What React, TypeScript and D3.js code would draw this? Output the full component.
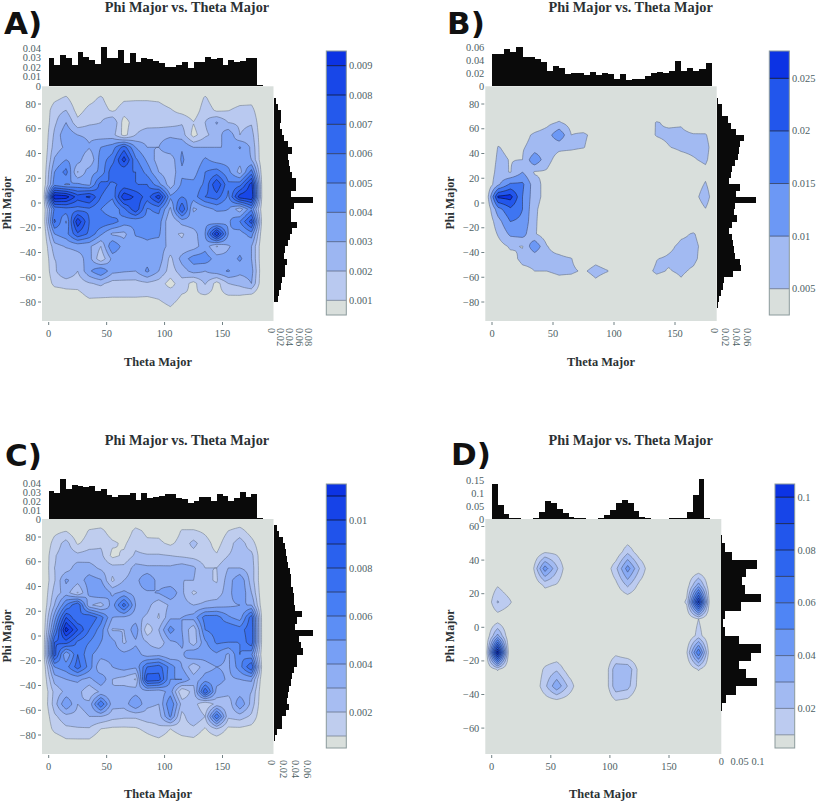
import React from "react";
import * as d3 from "d3";

const thetaTicks = [0, 50, 100, 150];
const phiTicks = [80, 60, 40, 20, 0, -20, -40, -60, -80];
const phiTicksD = [60, 40, 20, 0, -20, -40, -60];

// density grids, units of 1e-3; columns theta 5..175 by 10, rows phi 85..-85 by 10
const gridA = [
  [0.7,1.15,0.2,0.6,1.15,0.3,0.8,0.85,0.85,0.8,0.4,0.1,0,1.15,0.2,0.3,0.5,0.6],
  [1.6,2.0,0.6,1.3,1.5,0.8,1.5,1.5,1.5,1.4,1.1,0.6,0.3,1.6,0.8,0.95,1.3,1.3],
  [1.8,3.0,1.3,1.8,2.0,3.0,0.5,1.6,1.6,1.5,1.6,1.9,1.05,2.0,3.1,2.0,1.8,1.9],
  [2.2,3.8,3.0,2.8,2.5,2.4,0.6,2.0,2.5,2.7,2.8,2.5,0.6,1.8,2.4,3.8,2.0,2.4],
  [2.5,3.2,3.8,3.1,4.0,4.5,6.5,4.0,3.0,3.0,3.8,3.9,3.0,3.0,3.0,3.0,4.1,2.8],
  [3.1,4.0,3.5,2.0,4.5,5.5,8.5,5.2,3.8,2.5,2.3,4.2,3.0,4.2,3.5,3.5,3.4,3.0],
  [4.0,5.4,1.9,3.6,4.2,6.8,6.0,6.0,4.6,3.0,2.3,3.8,3.5,5.0,5.5,4.3,2.6,5.5],
  [4.6,3.9,4.2,3.7,6.5,5.8,6.3,6.0,6.0,4.3,2.4,4.2,4.3,5.2,8.0,5.2,5.6,8.5],
  [9.8,9.5,7.5,8.2,6.0,5.2,8.8,7.8,6.5,8.6,4.2,5.0,4.5,6.0,6.5,4.8,8.6,9.0],
  [5.2,5.6,5.6,5.8,5.0,4.0,5.7,7.8,4.9,5.3,2.8,7.0,2.8,3.5,4.2,4.0,2.4,4.8],
  [6.2,3.9,8.8,6.0,5.8,5.5,4.5,4.2,4.6,4.5,2.0,3.4,3.7,3.7,3.0,3.8,5.0,7.5],
  [4.0,4.6,6.8,5.8,4.2,2.8,2.7,4.1,4.2,4.2,2.2,1.9,2.5,4.0,9.0,4.0,3.5,4.5],
  [2.6,3.1,3.3,3.2,2.0,5.0,3.5,3.5,3.8,3.5,2.7,2.2,2.5,3.6,1.9,2.9,3.5,3.0],
  [2.0,2.2,2.6,3.4,1.2,3.3,3.2,3.8,3.6,3.6,1.7,3.4,4.5,4.6,3.5,3.3,4.2,3.0],
  [1.8,3.0,2.0,3.8,5.0,3.3,3.1,3.0,4.2,3.0,1.5,2.5,3.4,3.0,3.6,4.1,3.3,3.4],
  [1.3,1.4,1.4,1.9,2.2,1.6,1.6,1.6,1.8,1.5,0.6,1.6,0.6,2.1,0.6,2.0,2.3,3.0],
  [0.2,0.5,0.6,1.2,1.15,1.1,1.1,1.1,1.05,1.2,1.7,0.9,0.9,0.9,0.7,0.95,0.95,0.7],
  [0,0,0,0.2,0.2,0.2,0.2,0.2,0.2,0.5,0.9,0.3,0.2,0.2,0.1,0.2,0.2,0],
];
const gridB = [
  [0,0,0,0,0,0,0,0,0,0,0,0,0,0,0,0,0,0],
  [0,0,0,0,0,1,0,0,0,0,0,0,0,1,0,0,0,0],
  [1,0,0,1,3.5,5.5,3,0.5,0,0,0,0,2.5,5.3,4.2,4.2,0.5,0],
  [3,2,3,6,7.5,14,5,6,3,0,0,0,3,5.3,6,6.5,5.5,5.5],
  [5.2,4,4.5,7,7,6,6,5.3,2,0,0,0,0,3,4.8,6,6.5,7],
  [6,4.8,5,14,6.5,3,1.5,0,0,0,0,0,0,0,1,3,4.5,6],
  [7,4.7,10,4.5,4.5,1.5,0,0,0,0,0,0,0,0,0,0,2,3.5],
  [9,16,16,7,3,0,0,0,0,0,0,0,0,0,0,0,2,5.5],
  [26,27,15,7,3,0,0,0,0,0,0,0,0,0,0,0,3,7.5],
  [13,19,15,6,2,0,0,0,0,0,0,0,0,0,0,0,1.5,4.8],
  [8,15,14,5.8,1.5,0,0,0,0,0,0,0,0,0,0,0,0,1],
  [5.5,11,12,5.5,2,0,0,0,0,0,0,0,0,0,0,3.8,5.5,2],
  [3,5.6,4.8,14,5.2,3,1,0,0,0,0,0,0,0,3.5,6.5,6.5,3],
  [1,3.5,6,6,6,6,5.2,1,3,1,0,0,1,4.8,6,7,6.5,2],
  [0,2,4,5,5,6,6,4.2,7,5.2,0,0,3,6,4.6,6,4,0.5],
  [0,0,0,1,2,3,2,0.5,3.5,0.5,0,0,0.5,2,1,4,1,0],
  [0,0,0,0,0,0,0,0,0,0,0,0,0,0,0,0,0,0],
  [0,0,0,0,0,0,0,0,0,0,0,0,0,0,0,0,0,0],
];
const gridC = [
  [0.7,0.95,0.2,1.1,1.3,0.4,0.2,1.3,0.75,0.7,0.2,1.1,1.1,0.8,0.3,1.0,1.4,0.5],
  [1.4,2.4,0.85,1.5,1.8,1.2,0.8,1.7,1.2,1.2,0.8,1.4,2.3,1.4,0.6,1.6,2.5,1.4],
  [1.9,2.6,2.3,2.5,2.3,0.7,1.2,2.2,2.1,2.1,2.0,1.8,1.6,1.4,1.1,2.0,2.4,2.3],
  [2.0,2.4,3.6,3.4,2.8,2.4,2.3,3.4,3.2,3.2,3.2,3.6,3.2,2.0,2.0,3.0,3.0,2.5],
  [1.9,4.2,3.4,4.5,4.1,1.8,3.0,3.6,5.0,3.5,3.0,3.0,3.0,2.2,1.9,3.5,4.9,2.5],
  [2.4,3.5,1.9,4.3,5.0,3.8,4.2,3.6,3.8,4.1,5.0,3.2,1.8,2.5,2.4,3.6,5.0,3.0],
  [3.0,6.0,8.0,3.2,2.5,4.5,7.5,4.0,3.4,2.2,3.2,3.4,3.0,3.2,3.5,3.8,4.0,4.0],
  [4.5,9.0,7.0,8.0,6.5,4.0,3.8,3.4,2.8,1.9,3.8,4.0,4.4,6.5,6.5,5.2,4.5,7.6],
  [5.8,11.5,9.0,7.0,5.5,2.9,3.0,4.7,1.2,3.0,5.5,4.0,2.2,6.0,6.4,7.0,6.5,7.8],
  [8.0,8.5,6.8,6.0,5.0,4.4,2.8,3.8,3.0,2.3,3.8,4.2,2.3,4.8,6.2,6.0,6.0,7.8],
  [8.5,4.0,7.0,5.2,4.5,4.5,4.3,4.5,3.5,3.7,3.0,3.8,5.0,4.4,4.8,3.8,6.0,5.2],
  [5.0,5.6,7.5,5.6,3.0,4.0,4.5,4.2,7.0,7.5,5.6,4.0,2.2,3.6,4.0,3.8,5.6,8.0],
  [3.4,4.0,4.2,3.7,4.8,3.0,2.6,1.9,8.8,8.5,5.0,5.0,3.5,4.4,4.5,3.8,4.0,4.2],
  [2.3,3.3,3.4,2.2,3.2,3.0,3.4,3.6,3.5,3.3,4.5,1.0,2.5,8.0,3.6,3.4,3.4,3.0],
  [2.5,5.0,3.0,3.3,7.0,3.4,3.4,5.0,3.2,3.0,6.0,2.6,2.5,1.0,2.4,2.2,5.0,2.6],
  [1.8,2.6,2.7,3.0,3.0,2.4,2.2,2.2,2.6,2.5,5.2,1.6,3.0,2.0,7.0,2.2,2.5,1.8],
  [1.3,1.8,1.9,1.9,1.0,0.8,0.8,0.85,1.3,1.8,1.0,1.5,1.7,0.9,2.0,0.8,0.8,0.6],
  [0.3,0.8,0.8,0.8,0.2,0.1,0.1,0.1,0.5,0.7,0.3,0.6,0.7,0.2,0.3,0.1,0.1,0],
];
// rows phi 55..-55 by 10
const gridD = [
  [0,0,0,0,0,0,0,0,0,0,0,0,0,0,0,0,0,0],
  [0,0,0,0,8,7,0,0,0,0,1,17,3,0,0,0,0,0],
  [0,0,0,8,46,22,0,0,0,0,17,45,20,0,0,0,0,0],
  [9,2,0,0,12,9,0,0,0,0,7,22,7,0,0,0,4,35],
  [21,12,0,0,0,0,0,0,0,0,0,0,0,0,0,0,12,95],
  [3,0,0,0,0,0,0,0,0,0,0,0,0,0,0,0,0,10],
  [33,0,0,0,0,0,0,0,0,0,0,0,0,0,0,0,0,14],
  [105,0,0,0,0,0,0,0,0,0,6,0,0,0,0,0,9,60],
  [11,0,0,0,12,18,4,0,0,0,27,28,5.5,0,0,0,0,11],
  [0,0,0,0,17,38,18,0,0,0,27,24,5,0,0,0,0,0],
  [0,0,0,0,3,3,2,0,0,0,7,5,0,0,0,0,0,0],
  [0,0,0,0,0,0,0,0,0,0,0,0,0,0,0,0,0,0],
];

// marginals (units of 1e-3); top bins 5 degrees from theta 0, right bins from the given phi downward
const topA = [29.5,22.5,32.5,30,22,36,30.5,27.7,24,41.8,29.5,29.5,38,25,34.7,26,30,28.5,27,25,20,20,22,26,19.5,26,26,31,28.8,29.5,22,27.5,25.5,27,29.5,29.5,1];
const topB = [49,49,56.5,53,60.5,45,44,42,36.6,24,30.5,27.5,19,20,21,17,22.4,17.8,20,18.8,11.7,19.3,10,10.7,11,15,20,21.4,21,23,39,23.4,28,24,26.5,35.6];
const topC = [31,29.2,44.5,34,37.8,37,35.9,37,31.8,33.3,26.9,25,27.3,27.3,28.8,21,29.2,24,25,25.8,28,28,23.2,22.4,17.6,20,25,24.3,20,28,25.8,19.8,23.5,30,24.3,28,1];
const topD = [135,52.5,20,2.5,2.5,0,0,5,25.6,70,62.8,37,23,7.7,2.6,2,0,0,5,15,36,63,72,61.5,32,7.7,2.6,0,0,0,2,2,2,25.6,91,152.5,2];
const rightA = [2,6,10,16,17,15,19,22,31,40,32,33,36,40,48,48,38,86,44,38,38,52,41,36,31,26,23,29,25,26,19,16,13,9];
const rightB = [2.5,10,10,20,26,35,51,42,40,39,34,28,26,23,42,35,72,34,32,38,28,23,28,29,32,34,42,44,29,13,12,7,4,2];
const rightC = [5.6,10,16,19,21,22,25,27,29,30,33,34,34,36,48,40,37,66,43,46,49,39,40,34,32,30,26,25,23,26,21,15,15,6,2];
const rightD = [2.7,10,30,96,66,57,64.5,108,55,10,3.6,10,49,108,80,49,66,96,40,13,2];

const levelsA = [1,2,3,4,5,6,7,8,9];
const levelsB = [5,10,15,20,25];
const levelsC = [1,2,3,4,5,6,7,8,9,10,11];
const levelsD = [10,20,30,40,50,60,70,80,90,100];

const serif = "'Liberation Serif', serif";
const tickColor = "#4d6165";
const ink = "#2b3134";
const bg = "#d9dfdc";

const colorAt = d3.scaleLinear<string>()
  .domain([0, 0.1, 0.2, 0.35, 0.5, 0.7, 0.85, 1])
  .range([bg, "#bccbf0", "#a2baf2", "#7ba2f5", "#4f85f5", "#2d65ef", "#1c4eea", "#0c33e4"])
  .interpolate(d3.interpolateRgb as any);
const lineAt = d3.scaleLinear<string>().domain([0, 0.35, 1]).range(["#87919a", "#46557a", "#050a24"]);

function upsample(rows: number[][], f: number) {
  const w0 = rows[0].length + 2;
  const h0 = rows.length + 2;
  const g = (x: number, y: number) => {
    if (x <= 0 || y <= 0 || x >= w0 - 1 || y >= h0 - 1) return 0;
    return rows[y - 1][x - 1];
  };
  const w = (w0 - 1) * f + 1;
  const h = (h0 - 1) * f + 1;
  const out = new Array(w * h);
  for (let j = 0; j < h; j++) {
    const yy = j / f;
    const y1 = Math.min(Math.floor(yy), h0 - 2);
    const ty = yy - y1;
    for (let i = 0; i < w; i++) {
      const xx = i / f;
      const x1 = Math.min(Math.floor(xx), w0 - 2);
      const tx = xx - x1;
      out[j * w + i] = (1 - ty) * ((1 - tx) * g(x1, y1) + tx * g(x1 + 1, y1)) + ty * ((1 - tx) * g(x1, y1 + 1) + tx * g(x1 + 1, y1 + 1));
    }
  }
  return { values: out, w, h };
}

type Panel = {
  letter: string; lx: number; ly: number;
  titleX: number; titleY: number; xLabelX: number; xLabelY: number; yLabelX: number; yLabelY: number;
  left: number; right: number; top: number; bottom: number;
  x0: number; x150: number; y0: number; yStep20: number;
  grid: number[][]; phiTop: number; levels: number[]; yTicks: number[];
  topVals: number[]; topMax: number; topMaxY: number; topTicks: number[]; topFmt: (v: number) => string;
  rightVals: number[]; rightStart: number; rightTicks: number[]; rightPx: number; rightFmt: (v: number) => string; rightH: boolean; rightLabelY: number;
  cbL: number; cbR: number; cbT: number; cbB: number; cbMin: number; cbMax: number; cbTicks: number[]; cbFmt: (v: number) => string;
};

const f2 = (v: number) => (v === 0 ? "0" : String(+(v / 1000).toFixed(3)));

const panels: Panel[] = [
  { letter: "A)", lx: 4, ly: 34, titleX: 187, titleY: 12, xLabelX: 158, xLabelY: 366, yLabelX: 11, yLabelY: 203,
    left: 42, right: 273.5, top: 86.3, bottom: 321, x0: 48.7, x150: 222.5, y0: 203, yStep20: 24.75,
    grid: gridA, phiTop: 85, levels: levelsA, yTicks: phiTicks,
    topVals: topA, topMax: 40, topMaxY: 48.3, topTicks: [0,10,20,30,40], topFmt: f2,
    rightVals: rightA, rightStart: 90, rightTicks: [0,20,40,60,80], rightPx: 36.7, rightFmt: f2, rightH: false, rightLabelY: 328,
    cbL: 326.3, cbR: 346.3, cbT: 51, cbB: 315, cbMin: 0.5, cbMax: 9.5, cbTicks: [1,2,3,4,5,6,7,8,9], cbFmt: f2 },
  { letter: "B)", lx: 447, ly: 34, titleX: 630.7, titleY: 12, xLabelX: 601, xLabelY: 366, yLabelX: 454, yLabelY: 203,
    left: 485.3, right: 716.7, top: 86.3, bottom: 321, x0: 492, x150: 675, y0: 203, yStep20: 24.75,
    grid: gridB, phiTop: 85, levels: levelsB, yTicks: phiTicks,
    topVals: topB, topMax: 60, topMaxY: 47, topTicks: [0,20,40,60], topFmt: f2,
    rightVals: rightB, rightStart: 85, rightTicks: [0,20,40,60], rightPx: 32.7, rightFmt: f2, rightH: false, rightLabelY: 328,
    cbL: 769.3, cbR: 789.3, cbT: 51, cbB: 315, cbMin: 2.5, cbMax: 27.6, cbTicks: [5,10,15,20,25], cbFmt: f2 },
  { letter: "C)", lx: 5, ly: 466, titleX: 187, titleY: 445, xLabelX: 158, xLabelY: 798, yLabelX: 11, yLabelY: 636,
    left: 42, right: 273.5, top: 519, bottom: 754, x0: 48.7, x150: 222.5, y0: 636, yStep20: 24.75,
    grid: gridC, phiTop: 85, levels: levelsC, yTicks: phiTicks,
    topVals: topC, topMax: 40, topMaxY: 483.3, topTicks: [0,10,20,30,40], topFmt: f2,
    rightVals: rightC, rightStart: 90, rightTicks: [0,20,40,60], rightPx: 35.6, rightFmt: f2, rightH: false, rightLabelY: 760,
    cbL: 326.3, cbR: 346.3, cbT: 484, cbB: 748, cbMin: 0.5, cbMax: 11.5, cbTicks: [2,4,6,8,10], cbFmt: f2 },
  { letter: "D)", lx: 451, ly: 465, titleX: 630.7, titleY: 445, xLabelX: 603, xLabelY: 798, yLabelX: 454, yLabelY: 636,
    left: 485.3, right: 721.3, top: 519, bottom: 754, x0: 491.7, x150: 669, y0: 627.3, yStep20: 33.6,
    grid: gridD, phiTop: 55, levels: levelsD, yTicks: phiTicksD,
    topVals: topD, topMax: 150, topMaxY: 480, topTicks: [0,50,100,150], topFmt: f2,
    rightVals: rightD, rightStart: 55, rightTicks: [0,50,100], rightPx: 36.7, rightFmt: f2, rightH: true, rightLabelY: 765,
    cbL: 775, cbR: 794.7, cbT: 484, cbB: 748, cbMin: 5, cbMax: 105, cbTicks: [20,40,60,80,100], cbFmt: f2 },
];

const minus = (v: number) => (v < 0 ? "\u2212" + Math.abs(v) : String(v));

function Chart({ p }: { p: Panel }) {
  const x = d3.scaleLinear().domain([0, 150]).range([p.x0, p.x150]);
  const y = d3.scaleLinear().domain([0, 20]).range([p.y0, p.y0 - p.yStep20]);
  const F = 5;
  const up = upsample(p.grid, F);
  const gx = (i: number) => x(-5 + (i - 0.5) * 10 / F);
  const gy = (j: number) => y(p.phiTop + 10 - (j - 0.5) * 10 / F);
  const path = d3.geoPath(d3.geoTransform({
    point(this: any, a: number, b: number) { this.stream.point(gx(a), gy(b)); },
  }));
  const gen = d3.contours().size([up.w, up.h]).thresholds(p.levels);
  const shapes = gen(up.values);
  const n = p.levels.length;
  const band = (i: number) => colorAt((i + 1) / n);
  const topY = d3.scaleLinear().domain([0, p.topMax]).range([p.top, p.topMaxY]);
  const rightTickMax = p.rightTicks[p.rightTicks.length - 1];
  const rightX = d3.scaleLinear().domain([0, rightTickMax]).range([p.right, p.right + p.rightPx]);
  const cb = d3.scaleLinear().domain([p.cbMin, p.cbMax]).range([p.cbB, p.cbT]);
  const edges = [p.cbMin, ...p.levels, p.cbMax];
  return (
    <g>
      <text x={p.lx} y={p.ly} fontFamily="'DejaVu Sans', sans-serif" fontWeight="bold" fontSize={31} fill="#111">{p.letter}</text>
      <text x={p.titleX} y={p.titleY} textAnchor="middle" fontFamily={serif} fontWeight="bold" fontSize={14.3} fill={ink}>Phi Major vs. Theta Major</text>

      <rect x={p.left} y={p.top} width={p.right - p.left} height={p.bottom - p.top} fill={bg} />
      {shapes.map((s, i) => (
        <path key={i} d={path(s as any) || ""} fill={band(i)} stroke={lineAt((i + 1) / n)} strokeWidth={0.6} strokeLinejoin="round" />
      ))}

      {p.topVals.map((v, i) => (
        <rect key={i} x={x(i * 5)} y={topY(v)} width={x(5) - x(0)} height={p.top - topY(v)} fill="#0a0a0a" shapeRendering="crispEdges" />
      ))}
      {p.rightVals.map((v, i) => {
        const y1 = y(p.rightStart - i * 5);
        const y2 = y(p.rightStart - (i + 1) * 5);
        return <rect key={i} x={p.right} y={y1} width={rightX(v) - p.right} height={y2 - y1} fill="#0a0a0a" shapeRendering="crispEdges" />;
      })}

      {p.yTicks.map((t) => (
        <g key={t}>
          <line x1={p.left - 4} x2={p.left - 1} y1={y(t)} y2={y(t)} stroke={tickColor} strokeWidth={0.8} />
          <text x={p.left - 6} y={y(t) + 3.5} textAnchor="end" fontFamily={serif} fontSize={10.4} fill={tickColor}>{minus(t)}</text>
        </g>
      ))}
      {thetaTicks.map((t) => (
        <g key={t}>
          <line x1={x(t)} x2={x(t)} y1={p.bottom + 1} y2={p.bottom + 4} stroke={tickColor} strokeWidth={0.8} />
          <text x={x(t)} y={p.bottom + 16} textAnchor="middle" fontFamily={serif} fontSize={10.4} fill={tickColor}>{t}</text>
        </g>
      ))}
      {p.topTicks.map((t) => (
        <text key={t} x={p.left - 1} y={topY(t) + 3.5} textAnchor="end" fontFamily={serif} fontSize={10.4} fill={tickColor}>{p.topFmt(t)}</text>
      ))}
      {p.rightTicks.map((t) => p.rightH ? (
        <text key={t} x={rightX(t)} y={p.rightLabelY} textAnchor="middle" fontFamily={serif} fontSize={10.4} fill={tickColor}>{p.rightFmt(t)}</text>
      ) : (
        <text key={t} transform={`translate(${rightX(t) - 5.5},${p.rightLabelY}) rotate(90)`} fontFamily={serif} fontSize={10.4} fill={tickColor}>{p.rightFmt(t)}</text>
      ))}

      <text x={p.xLabelX} y={p.xLabelY} textAnchor="middle" fontFamily={serif} fontWeight="bold" fontSize={12.4} fill={ink}>Theta Major</text>
      <text transform={`translate(${p.yLabelX},${p.yLabelY}) rotate(-90)`} textAnchor="middle" fontFamily={serif} fontWeight="bold" fontSize={12} fill={ink}>Phi Major</text>

      {edges.slice(0, -1).map((e, i) => (
        <rect key={i} x={p.cbL} y={cb(edges[i + 1])} width={p.cbR - p.cbL} height={cb(e) - cb(edges[i + 1])} fill={i === 0 ? bg : band(i - 1)} />
      ))}
      {p.levels.map((l, i) => (
        <line key={l} x1={p.cbL} x2={p.cbR} y1={cb(l)} y2={cb(l)} stroke={lineAt((i + 1) / n)} strokeWidth={0.8} />
      ))}
      <rect x={p.cbL} y={p.cbT} width={p.cbR - p.cbL} height={p.cbB - p.cbT} fill="none" stroke="#8b9a9c" strokeWidth={1} />
      {p.cbTicks.map((t) => (
        <text key={t} x={p.cbR + 2.7} y={cb(t) + 3.5} fontFamily={serif} fontSize={10.4} fill={tickColor}>{p.cbFmt(t)}</text>
      ))}
    </g>
  );
}

export default function App() {
  return (
    <svg width={817} height={803} style={{ position: "absolute", left: 0, top: 0, background: "#fff" }}>
      {panels.map((p) => <Chart key={p.letter} p={p} />)}
    </svg>
  );
}
